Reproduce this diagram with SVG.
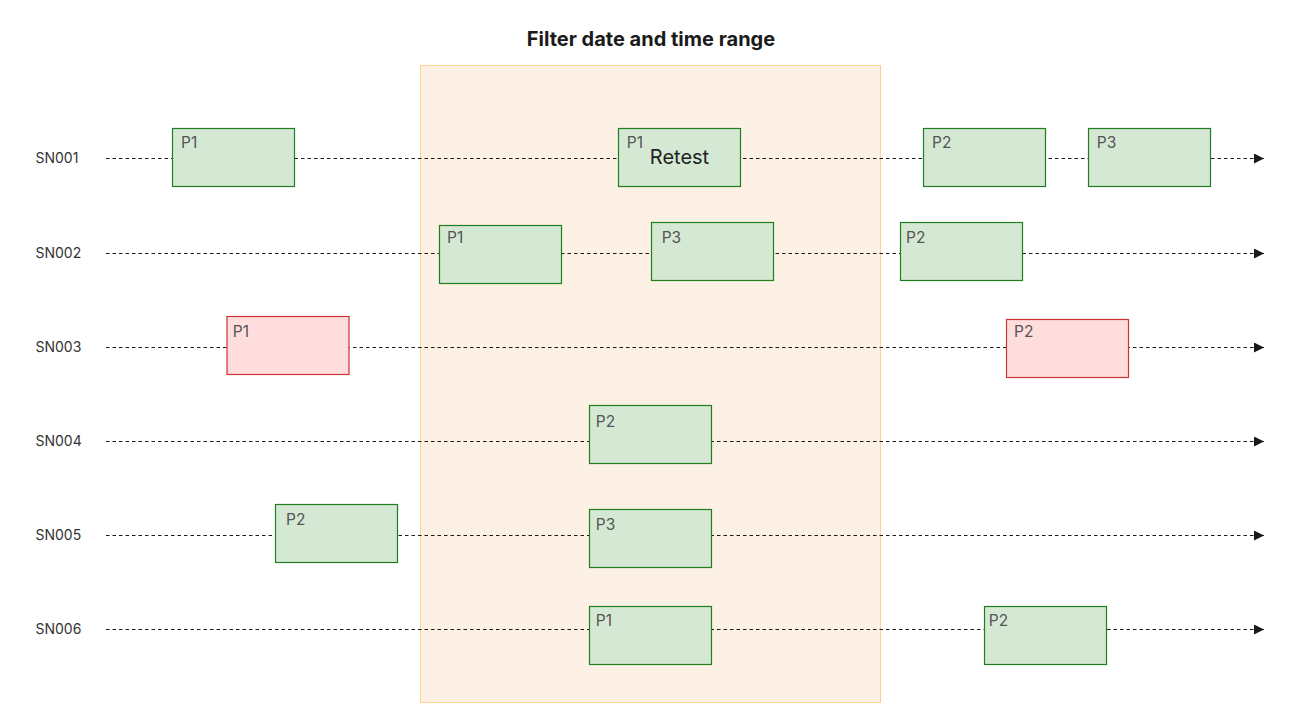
<svg xmlns="http://www.w3.org/2000/svg" width="1302" height="725" viewBox="0 0 1302 725">
<defs>
<marker id="arr" viewBox="0 0 10 10" refX="10" refY="5" markerWidth="10" markerHeight="10" markerUnits="userSpaceOnUse" orient="auto">
<path d="M0,0 L10,5 L0,10 z" fill="#1a1a1a"/>
</marker>
<style>
.bg{fill:#ffffff}
.hl{fill:#fdf0e4;stroke:#ffd08f;stroke-width:1}
.title{font-family:Inter,"Liberation Sans",sans-serif;font-size:20px;font-weight:700;fill:#1a1a1a;text-anchor:middle}
.sn{font-family:Inter,"Liberation Sans",sans-serif;font-size:14px;fill:#333333}
.ln{stroke:#1a1a1a;stroke-width:1;stroke-dasharray:3.5 3;fill:none}
.g{fill:#d5e8d4;stroke:#1f7f1f;stroke-width:1.2}
.r{fill:#ffdddd;stroke:#cc3333;stroke-width:1.2}
.p{font-family:Inter,"Liberation Sans",sans-serif;font-size:15.5px;fill:#555555}
.rt{font-family:Inter,"Liberation Sans",sans-serif;font-size:20px;fill:#222222;text-anchor:middle}
</style>
</defs>
<rect class="bg" x="0" y="0" width="1302" height="725"/>
<g id="filter-range">
<rect class="hl" x="420.5" y="65.5" width="460" height="637"/>
<text class="title" x="651" y="45.5">Filter date and time range</text>
</g>
<g id="labels">
<text class="sn" x="35.5" y="163.3">SN001</text>
<text class="sn" x="35.5" y="258.3">SN002</text>
<text class="sn" x="35.5" y="352.3">SN003</text>
<text class="sn" x="35.5" y="446.3">SN004</text>
<text class="sn" x="35.5" y="540.3">SN005</text>
<text class="sn" x="35.5" y="634.3">SN006</text>
</g>
<g id="connectors">
<line class="ln" x1="106" y1="158.5" x2="1264" y2="158.5" marker-end="url(#arr)"/>
<line class="ln" x1="106" y1="253.5" x2="1264" y2="253.5" marker-end="url(#arr)"/>
<line class="ln" x1="106" y1="347.5" x2="1264" y2="347.5" marker-end="url(#arr)"/>
<line class="ln" x1="106" y1="441.5" x2="1264" y2="441.5" marker-end="url(#arr)"/>
<line class="ln" x1="106" y1="535.5" x2="1264" y2="535.5" marker-end="url(#arr)"/>
<line class="ln" x1="106" y1="629.5" x2="1264" y2="629.5" marker-end="url(#arr)"/>
</g>
<g id="sn001-p1"><rect class="g" x="172.5" y="128.5" width="122" height="58"/><text class="p" x="181" y="147.7">P1</text></g>
<g id="sn001-p1-retest"><rect class="g" x="618.5" y="128.5" width="122" height="58"/><text class="p" x="626.8" y="147.7">P1</text><text class="rt" x="679.5" y="164">Retest</text></g>
<g id="sn001-p2"><rect class="g" x="923.5" y="128.5" width="122" height="58"/><text class="p" x="932" y="147.7">P2</text></g>
<g id="sn001-p3"><rect class="g" x="1088.5" y="128.5" width="122" height="58"/><text class="p" x="1096.8" y="147.7">P3</text></g>
<g id="sn002-p1"><rect class="g" x="439.5" y="225.5" width="122" height="58"/><text class="p" x="447" y="242.7">P1</text></g>
<g id="sn002-p3"><rect class="g" x="651.5" y="222.5" width="122" height="58"/><text class="p" x="661.7" y="242.7">P3</text></g>
<g id="sn002-p2"><rect class="g" x="900.5" y="222.5" width="122" height="58"/><text class="p" x="906" y="242.7">P2</text></g>
<g id="sn003-p1"><rect class="r" x="227" y="316.5" width="122" height="58"/><text class="p" x="232.8" y="337">P1</text></g>
<g id="sn003-p2"><rect class="r" x="1006.5" y="319.5" width="122" height="58"/><text class="p" x="1014" y="336.7">P2</text></g>
<g id="sn004-p2"><rect class="g" x="589.5" y="405.5" width="122" height="58"/><text class="p" x="595.8" y="427">P2</text></g>
<g id="sn005-p2"><rect class="g" x="275.5" y="504.5" width="122" height="58"/><text class="p" x="286" y="524.7">P2</text></g>
<g id="sn005-p3"><rect class="g" x="589.5" y="509.5" width="122" height="58"/><text class="p" x="595.8" y="530">P3</text></g>
<g id="sn006-p1"><rect class="g" x="589.5" y="606.5" width="122" height="58"/><text class="p" x="595.8" y="626">P1</text></g>
<g id="sn006-p2"><rect class="g" x="984.5" y="606.5" width="122" height="58"/><text class="p" x="988.8" y="626">P2</text></g>
</svg>
